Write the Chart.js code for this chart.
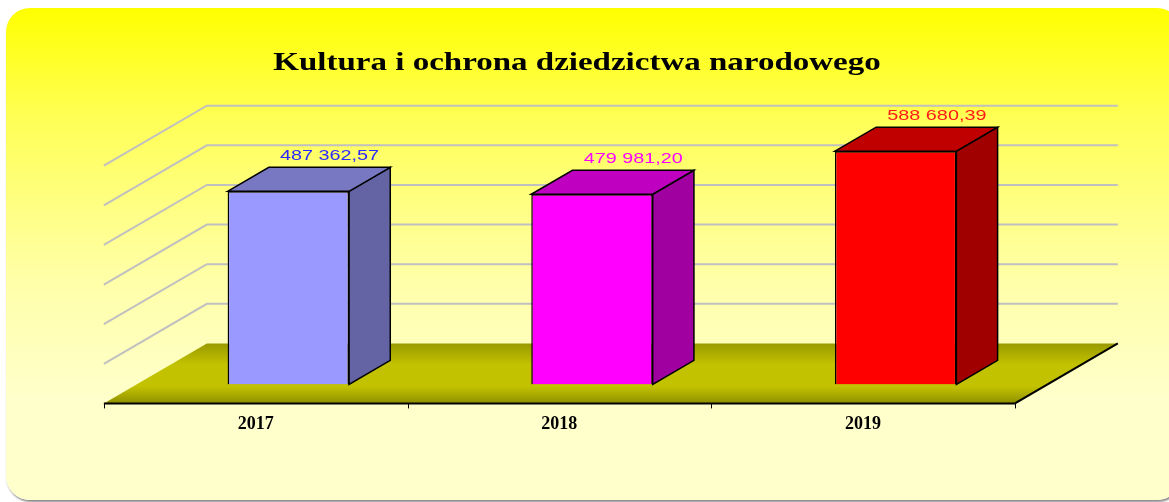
<!DOCTYPE html>
<html lang="pl">
<head>
<meta charset="utf-8">
<title>Kultura i ochrona dziedzictwa narodowego</title>
<script src="https://cdn.jsdelivr.net/npm/chart.js@4.4.1/dist/chart.umd.min.js"></script>
<style>
    html, body { margin: 0; padding: 0; background: #fff; }
    #wrap { position: relative; width: 1169px; height: 502px; overflow: hidden; }
    #panel {
        position: absolute; left: 6px; top: 8px; width: 1175px; height: 492px;
        border-radius: 24px;
        background: linear-gradient(to bottom, #ffff00 0%, #ffff55 22%, #ffffa8 55%, #ffffcc 80%, #ffffcc 100%);
        box-shadow: 1px 2px 2px rgba(0, 0, 0, 0.45);
    }
    #box { position: absolute; left: 0; top: 0; width: 1169px; height: 502px; }
</style>
</head>
<body>
<div id="wrap">
    <div id="panel"></div>
    <div id="box"><canvas id="budgetChart"></canvas></div>
</div>
<script>
// Dane
const chartTitle = 'Kultura i ochrona dziedzictwa narodowego';
const years = ['2017', '2018', '2019'];
const amounts = [487362.57, 479981.20, 588680.39];
const axisMax = 600000;
const axisStep = 100000;

// Kolory słupków: przód, góra, bok, etykieta
const frontColors = ['#9999ff', '#ff00ff', '#ff0000'];
const topColors = ['#7878c2', '#c000c0', '#c00000'];
const sideColors = ['#6464a4', '#a000a0', '#a00000'];
const labelColors = ['#2a2aff', '#ff00ff', '#ff1a1a'];

// Geometria efektu 3D
const DEPTH = { x: 103, y: -60 };  // pełna głębokość podłogi
const BAR_PLANE = 0.317;           // położenie przodu słupków na głębokości
const BAR_DEPTH = 0.4;             // głębokość słupka
const STRETCH = 1.32;              // poszerzenie napisów

function formatPl(v) {
    const [int, dec] = v.toFixed(2).split('.');
    return int.replace(/\B(?=(\d{3})+(?!\d))/g, ' ') + ',' + dec;
}

const scene3d = {
    id: 'scene3d',
    beforeDatasetsDraw(chart) {
        const { ctx, chartArea: a, scales: { x, y } } = chart;
        const fx = -BAR_PLANE * DEPTH.x, fy = -BAR_PLANE * DEPTH.y;
        const bx = (1 - BAR_PLANE) * DEPTH.x, by = (1 - BAR_PLANE) * DEPTH.y;
        const base = y.getPixelForValue(0);

        ctx.save();

        // linie siatki na tylnej i lewej ścianie
        ctx.strokeStyle = '#c0c0c0';
        ctx.lineWidth = 2;
        y.ticks.forEach(t => {
            if (t.value === 0) return;
            const py = y.getPixelForValue(t.value);
            ctx.beginPath();
            ctx.moveTo(a.left + fx, py + fy);
            ctx.lineTo(a.left + bx, py + by);
            ctx.lineTo(a.right + bx, py + by);
            ctx.stroke();
        });

        // podłoga
        const grad = ctx.createLinearGradient(0, base + by, 0, base + fy);
        grad.addColorStop(0, '#999900');
        grad.addColorStop(0.35, '#c2c200');
        grad.addColorStop(0.72, '#c2c200');
        grad.addColorStop(1, '#8f8f00');
        ctx.fillStyle = grad;
        ctx.beginPath();
        ctx.moveTo(a.left + fx, base + fy);
        ctx.lineTo(a.right + fx, base + fy);
        ctx.lineTo(a.right + bx, base + by);
        ctx.lineTo(a.left + bx, base + by);
        ctx.closePath();
        ctx.fill();

        ctx.strokeStyle = '#000';
        ctx.lineWidth = 2;
        ctx.beginPath();
        ctx.moveTo(a.left + fx, base + fy);
        ctx.lineTo(a.right + fx, base + fy);
        ctx.lineTo(a.right + bx, base + by);
        ctx.stroke();

        // znaczniki osi
        ctx.lineWidth = 1;
        const n = years.length;
        for (let i = 0; i <= n; i++) {
            const px = Math.round(a.left + fx + i * a.width / n) + 0.5;
            ctx.beginPath();
            ctx.moveTo(px, base + fy);
            ctx.lineTo(px, base + fy + 5);
            ctx.stroke();
        }

        // boki i wierzchy słupków
        const dx = BAR_DEPTH * DEPTH.x, dy = BAR_DEPTH * DEPTH.y;
        ctx.lineWidth = 1.5;
        ctx.lineJoin = 'miter';
        chart.getDatasetMeta(0).data.forEach((bar, i) => {
            const p = bar.getProps(['x', 'y', 'base', 'width'], true);
            const l = p.x - p.width / 2, r = p.x + p.width / 2;

            ctx.fillStyle = sideColors[i];
            ctx.beginPath();
            ctx.moveTo(r, p.y);
            ctx.lineTo(r + dx, p.y + dy);
            ctx.lineTo(r + dx, p.base + dy);
            ctx.lineTo(r, p.base);
            ctx.closePath();
            ctx.fill();
            ctx.stroke();

            ctx.fillStyle = topColors[i];
            ctx.beginPath();
            ctx.moveTo(l, p.y);
            ctx.lineTo(l + dx, p.y + dy);
            ctx.lineTo(r + dx, p.y + dy);
            ctx.lineTo(r, p.y);
            ctx.closePath();
            ctx.fill();
            ctx.stroke();
        });

        ctx.restore();
    },
    afterDatasetsDraw(chart) {
        const { ctx } = chart;
        const dx = BAR_DEPTH * DEPTH.x, dy = BAR_DEPTH * DEPTH.y;
        ctx.save();
        ctx.font = '15px "Liberation Sans", Arial, sans-serif';
        ctx.textAlign = 'center';
        ctx.textBaseline = 'alphabetic';
        chart.getDatasetMeta(0).data.forEach((bar, i) => {
            const p = bar.getProps(['x', 'y'], true);
            ctx.save();
            ctx.translate(p.x + dx, p.y + dy - 7);
            ctx.scale(STRETCH, 1);
            ctx.fillStyle = labelColors[i];
            ctx.fillText(formatPl(amounts[i]), 0, 0);
            ctx.restore();
        });

        // tytuł
        ctx.font = 'bold 25px "Liberation Serif", "Times New Roman", serif';
        ctx.fillStyle = '#000';
        ctx.translate(577, 70);
        ctx.scale(STRETCH, 1);
        ctx.fillText(chartTitle, 0, 0);
        ctx.restore();
    }
};

const chart = new Chart(document.getElementById('budgetChart'), {
    type: 'bar',
    data: {
        labels: years,
        datasets: [{
            data: amounts,
            backgroundColor: frontColors,
            borderColor: '#000',
            borderWidth: 1.5,
            categoryPercentage: 1,
            barPercentage: 0.4
        }]
    },
    options: {
        responsive: true,
        maintainAspectRatio: false,
        animation: false,
        layout: {
            padding: { left: 136.5, right: 121.5, top: 146.7, bottom: 38 }
        },
        plugins: {
            legend: { display: false },
            title: { display: false },
            tooltip: { enabled: false }
        },
        scales: {
            x: {
                grid: { display: false, drawTicks: false },
                border: { display: false },
                ticks: {
                    color: '#000',
                    padding: 29,
                    labelOffset: -BAR_PLANE * DEPTH.x,
                    font: { family: '"Liberation Serif", "Times New Roman", serif', size: 18, weight: 'bold' }
                }
            },
            y: {
                display: false,
                min: 0,
                max: axisMax,
                ticks: { stepSize: axisStep }
            }
        }
    },
    plugins: [scene3d]
});
</script>
</body>
</html>
